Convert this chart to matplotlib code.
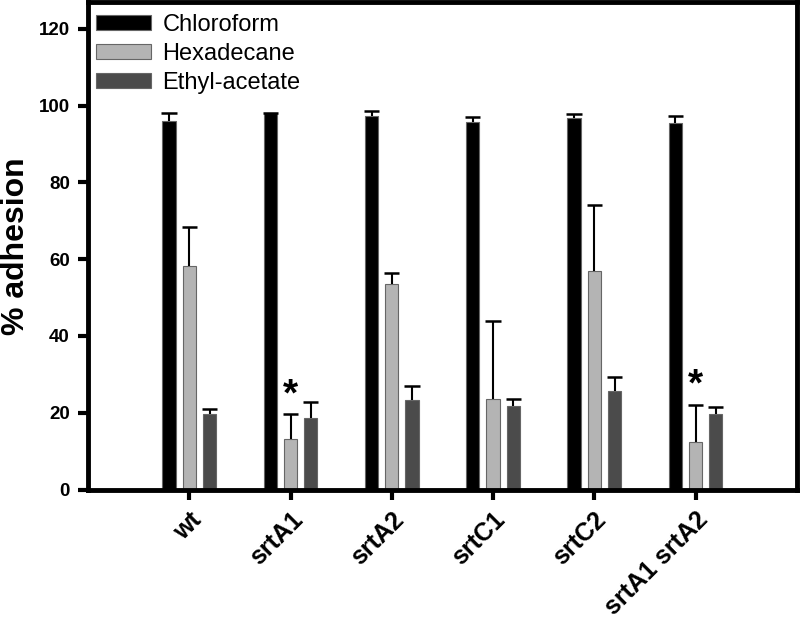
import numpy as np
import matplotlib
matplotlib.use("Agg")
import matplotlib.pyplot as plt

plt.rcParams['font.family'] = ['Liberation Sans', 'DejaVu Sans']

# Data
strains = ['wt', 'srtA1', 'srtA2', 'srtC1', 'srtC2', 'srtA1 srtA2']
chloroform = [96.0, 98.1, 97.4, 95.8, 96.8, 95.5]
chloroform_err = [2.1, 0.0, 1.2, 1.2, 1.0, 1.8]
hexadecane = [58.2, 13.1, 53.6, 23.7, 56.8, 12.3]
hexadecane_err = [10.1, 6.5, 2.9, 20.2, 17.4, 9.8]
ethyl_acetate = [19.7, 18.6, 23.3, 21.7, 25.7, 19.7]
ethyl_acetate_err = [1.3, 4.3, 3.7, 2.0, 3.5, 1.7]
significant = [False, True, False, False, False, True]

series = [
    ('Chloroform', chloroform, chloroform_err, 'black'),
    ('Hexadecane', hexadecane, hexadecane_err, '#b4b4b4'),
    ('Ethyl-acetate', ethyl_acetate, ethyl_acetate_err, '#4b4b4b'),
]

fig = plt.figure(figsize=(8, 6.26), dpi=100)
ax = fig.add_axes([0.11, 0.218, 0.886, 0.779])

x = np.arange(len(strains))
width = 0.13
offsets = [-0.2, 0.0, 0.2]
cap_half = 0.075

for (name, vals, errs, color), off in zip(series, offsets):
    xs = x + off
    vals = np.array(vals)
    errs = np.array(errs)
    ax.bar(xs, vals, width, color=color, edgecolor='#666666', linewidth=0.8,
           label=name, zorder=2)
    # upper-only error bars: stem + cap
    ax.vlines(xs, vals, vals + errs, color='black', linewidth=1.5, zorder=3)
    ax.hlines(vals + errs, xs - cap_half, xs + cap_half, color='black',
              linewidth=1.8, zorder=3)

# significance asterisks over hexadecane bars
for xi, val, err, sig in zip(x, hexadecane, hexadecane_err, significant):
    if sig:
        ax.text(xi, val + err + 0.3, '*', ha='center', va='bottom',
                fontsize=28, fontweight='bold')

ax.set_xlim(-1, 6)
ax.set_ylim(0, 127)
ax.set_yticks([0, 20, 40, 60, 80, 100, 120])
ax.set_xticks(x)
ax.set_xticklabels(strains, rotation=45, ha='right', rotation_mode='anchor',
                   fontsize=18, fontweight='bold')
for lbl in ax.get_yticklabels():
    lbl.set_fontweight('bold')
    lbl.set_fontsize(13.5)

ax.set_ylabel('% adhesion', fontsize=23, fontweight='bold')
ax.yaxis.set_label_coords(-0.081, 0.5)

for sp in ax.spines.values():
    sp.set_linewidth(3.5)
ax.tick_params(axis='both', direction='out', length=7, width=3, pad=6)

leg = ax.legend(loc='upper left', frameon=False, fontsize=17,
                handlelength=2.3, handleheight=0.6, labelspacing=0.3,
                borderaxespad=0.1, handletextpad=0.5,
                bbox_to_anchor=(-0.005, 1.0))

fig.savefig('out.png', dpi=100)
